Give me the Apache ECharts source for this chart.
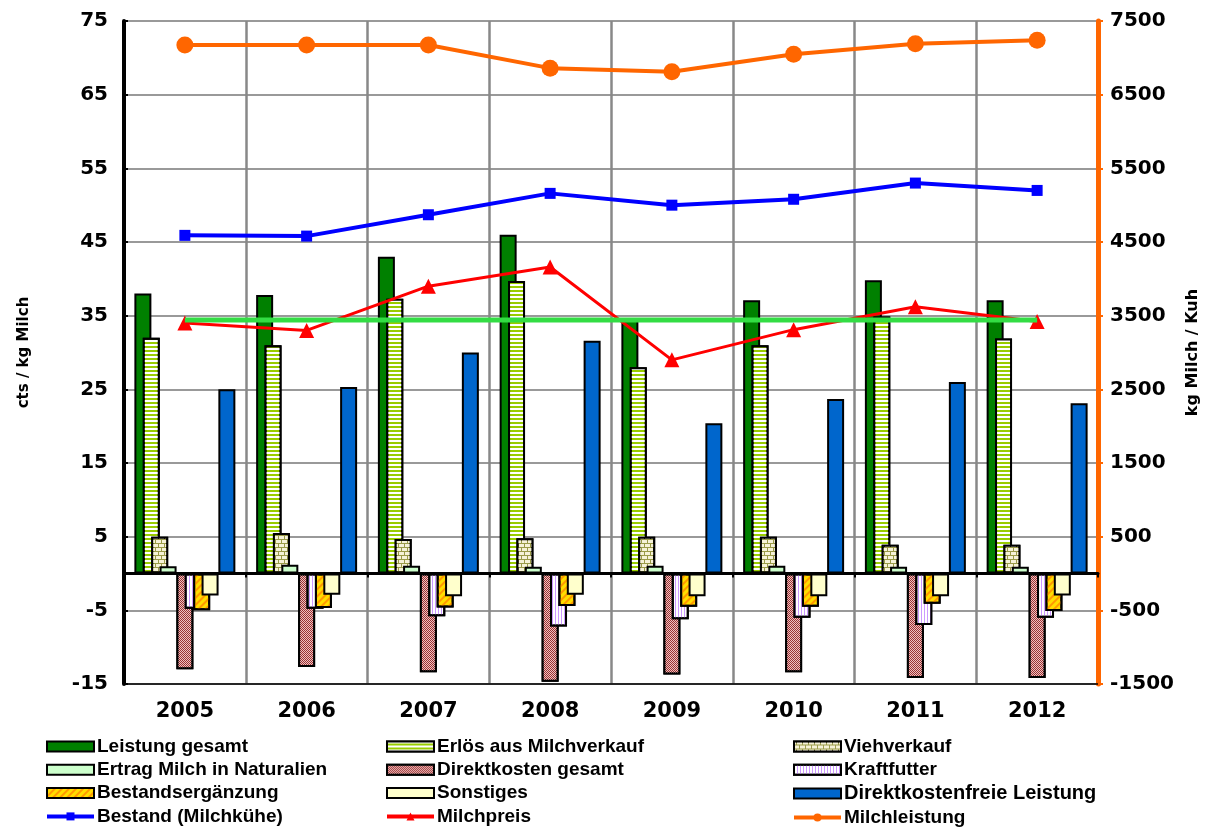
<!DOCTYPE html>
<html><head><meta charset="utf-8">
<script src="https://cdn.jsdelivr.net/npm/echarts@6/dist/echarts.min.js"></script>
<style>html,body{margin:0;padding:0;background:#fff}#c{width:1213px;height:829px}</style>
</head><body><div id="c"></div>
<script>
const years = ['2005','2006','2007','2008','2009','2010','2011','2012'];
const leistungGesamt = [38, 37.8, 43, 46, 34.5, 37.1, 39.8, 37.1];
const erloesMilch = [32, 31, 37.3, 39.7, 28, 31, 34.9, 31.9];
const viehverkauf = [5, 5.5, 4.7, 4.8, 5, 5, 3.9, 3.9];
const ertragNaturalien = [1, 1.2, 1.05, 0.9, 1.05, 1.05, 0.9, 0.9];
const direktkosten = [-13, -12.7, -13.4, -14.7, -13.7, -13.4, -14.2, -14.2];
const kraftfutter = [-4.8, -4.8, -5.8, -7.2, -6.2, -6, -7, -6];
const bestandsergaenzung = [-5, -4.7, -4.6, -4.4, -4.5, -4.5, -4.1, -5.1];
const sonstiges = [-3, -2.9, -3.1, -2.9, -3.1, -3.1, -3.1, -3];
const direktkostenfrei = [25, 25.3, 30, 31.6, 20.4, 23.7, 26, 23.1];
const bestandKuehe = [4590, 4580, 4870, 5160, 5000, 5080, 5300, 5200];
const milchpreis = [34, 33, 39, 41.6, 29, 33.1, 36.2, 34.2];
const milchleistung = [7175, 7175, 7175, 6860, 6810, 7050, 7190, 7240];
const referenzlinie = [34.4, 34.4, 34.4, 34.4, 34.4, 34.4, 34.4, 34.4];
const leftTicks = {min: -15, max: 75, interval: 10};
const rightTicks = {min: -1500, max: 7500, interval: 1000};

const FONT = 'Liberation Sans, Arial, sans-serif';
const WFONT = 'DejaVu Sans, sans-serif';
const border = {borderColor: '#000', borderWidth: 2};
const BW = 17, GAP = '-50.6%';
function bar(name, data, itemStyle) {
  return {name, type: 'bar', data, barWidth: BW, barGap: GAP, yAxisIndex: 0,
    itemStyle: Object.assign({}, border, itemStyle), emphasis: {disabled: true}};
}
const series = [
  bar('Leistung gesamt', leistungGesamt, {color: '#008000'}),
  bar('Erlös aus Milchverkauf', erloesMilch, {color: '#99cc00',
    decal: {symbol: 'rect', symbolSize: 1, color: '#ffffff', dashArrayX: [1, 0], dashArrayY: [2, 1.5]}}),
  bar('Viehverkauf', viehverkauf, {color: '#9a9a48',
    decal: {symbol: 'rect', symbolSize: 1, color: '#f6f2d8', dashArrayX: [[5, 1], [2, 1, 3, 0]], dashArrayY: [3, 1]}}),
  bar('Ertrag Milch in Naturalien', ertragNaturalien, {color: '#ccffcc'}),
  {name: '_gap1', type: 'bar', data: [], barWidth: BW, barGap: GAP},
  bar('Direktkosten gesamt', direktkosten, {color: '#993333',
    decal: {symbol: 'rect', symbolSize: 1, color: '#f0c0c0', dashArrayX: [[1, 1], [0, 1, 1, 0]], dashArrayY: [1, 0]}}),
  bar('Kraftfutter', kraftfutter, {color: '#ffffff',
    decal: {symbol: 'rect', symbolSize: 1, color: '#cc99ff', dashArrayX: [1, 2], dashArrayY: [1, 0]}}),
  bar('Bestandsergänzung', bestandsergaenzung, {color: '#ffdd00',
    decal: {symbol: 'rect', symbolSize: 1, color: '#ff9900', rotation: -Math.PI / 4, dashArrayX: [1, 0], dashArrayY: [2, 3]}}),
  bar('Sonstiges', sonstiges, {color: '#ffffcc'}),
  {name: '_gap2', type: 'bar', data: [], barWidth: BW, barGap: GAP},
  bar('Direktkostenfreie Leistung', direktkostenfrei, {color: '#0066cc'}),
  {name: 'Bestand (Milchkühe)', type: 'line', yAxisIndex: 1, data: bestandKuehe,
    symbol: 'rect', symbolSize: 11, lineStyle: {color: '#0000ff', width: 4},
    itemStyle: {color: '#0000ff'}, z: 5},
  {name: 'Milchpreis', type: 'line', yAxisIndex: 0, data: milchpreis,
    symbol: 'triangle', symbolSize: 15, lineStyle: {color: '#ff0000', width: 3},
    itemStyle: {color: '#ff0000'}, z: 5},
  {name: '_ref', type: 'line', yAxisIndex: 0, data: referenzlinie, symbol: 'none', silent: true,
    lineStyle: {color: '#33dd44', width: 5}, z: 6},
  {name: 'Milchleistung', type: 'line', yAxisIndex: 1, data: milchleistung,
    symbol: 'circle', symbolSize: 17, lineStyle: {color: '#ff6600', width: 4},
    itemStyle: {color: '#ff6600'}, z: 5}
];
const lineNames = ['Bestand (Milchkühe)', 'Milchpreis', 'Milchleistung'];
const item = n => lineNames.includes(n) ? {name: n, lineStyle: {width: 4}} : {name: n, icon: 'rect'};
const legendBase = {orient: 'vertical', itemWidth: 47, itemHeight: 10, itemGap: 4.3, top: 737, padding: 0,
  textStyle: {fontFamily: FONT, fontWeight: 'bold', fontSize: 19, lineHeight: 19, color: '#000', padding: [0, 0, 0, -2],
    rich: {big: {fontFamily: FONT, fontWeight: 'bold', fontSize: 20, lineHeight: 19, color: '#000'}}},
  selectedMode: false};
const chart = echarts.init(document.getElementById('c'));
chart.setOption({
  animation: false,
  backgroundColor: '#fff',
  grid: {left: 124, right: 115, top: 21, bottom: 145, show: true, borderColor: '#000', borderWidth: 1.5, backgroundColor: 'transparent'},
  legend: [
    Object.assign({}, legendBase, {left: 45, data: ['Leistung gesamt', 'Ertrag Milch in Naturalien', 'Bestandsergänzung', 'Bestand (Milchkühe)'].map(item)}),
    Object.assign({}, legendBase, {left: 385, data: ['Erlös aus Milchverkauf', 'Direktkosten gesamt', 'Sonstiges', 'Milchpreis'].map(item)}),
    Object.assign({}, legendBase, {left: 792, data: ['Viehverkauf', 'Kraftfutter', 'Direktkostenfreie Leistung', 'Milchleistung'].map(item),
      formatter: n => n === 'Direktkostenfreie Leistung' ? '{big|' + n + '}' : n})
  ],
  xAxis: [
    {type: 'category', data: years, position: 'bottom',
      axisLine: {onZero: false, lineStyle: {color: '#000', width: 1.5}},
      axisTick: {show: false},
      axisLabel: {fontFamily: WFONT, fontWeight: 'bold', fontSize: 21, color: '#000', margin: 17},
      splitLine: {show: true, lineStyle: {color: '#888', width: 2.5}}},
    {type: 'category', data: years, position: 'bottom',
      axisLine: {onZero: true, lineStyle: {color: '#000', width: 3}},
      axisTick: {show: true, length: 4, lineStyle: {color: '#000', width: 2}},
      axisLabel: {show: false}, splitLine: {show: false}}
  ],
  yAxis: [
    {type: 'value', min: leftTicks.min, max: leftTicks.max, interval: leftTicks.interval, position: 'left',
      name: 'cts / kg Milch', nameLocation: 'middle', nameGap: 92, nameRotate: 90,
      nameTextStyle: {fontFamily: WFONT, fontWeight: 'bold', fontSize: 15, color: '#000'},
      axisLine: {show: true, onZero: false, lineStyle: {color: '#000', width: 4}},
      axisTick: {show: true, inside: true, length: 4, lineStyle: {color: '#000', width: 2}},
      axisLabel: {fontFamily: WFONT, fontWeight: 'bold', fontSize: 20, color: '#000', margin: 16},
      splitLine: {show: true, lineStyle: {color: '#999', width: 2}}},
    {type: 'value', min: rightTicks.min, max: rightTicks.max, interval: rightTicks.interval, position: 'right',
      name: 'kg Milch / Kuh', nameLocation: 'middle', nameGap: 84, nameRotate: 90,
      nameTextStyle: {fontFamily: WFONT, fontWeight: 'bold', fontSize: 16, color: '#000'},
      axisLine: {show: true, onZero: false, lineStyle: {color: '#ff6600', width: 5}},
      axisTick: {show: true, length: 5, lineStyle: {color: '#ff6600', width: 2}},
      axisLabel: {fontFamily: WFONT, fontWeight: 'bold', fontSize: 20, color: '#000', margin: 12, formatter: v => String(v)},
      splitLine: {show: false}}
  ],
  series
});
</script></body></html>
